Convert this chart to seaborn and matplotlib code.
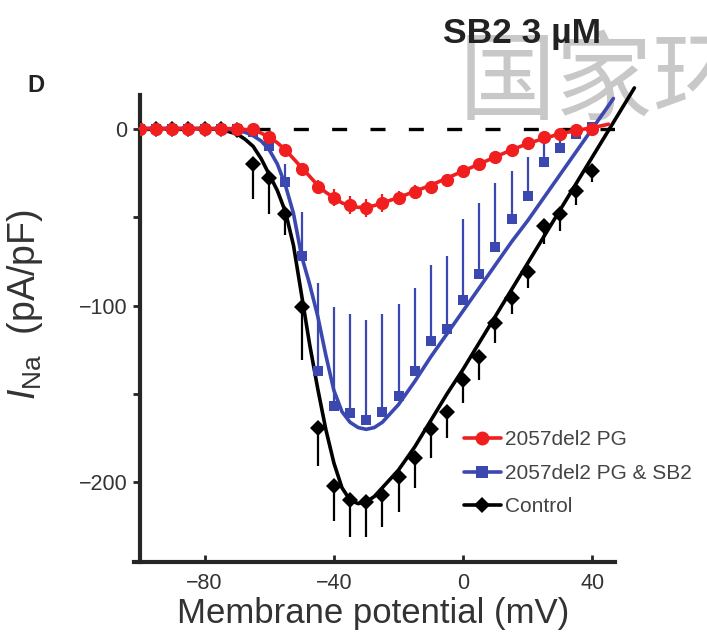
import numpy as np
import pandas as pd
import matplotlib
matplotlib.use("Agg")
import matplotlib.pyplot as plt
from matplotlib.lines import Line2D
import seaborn as sns

sns.set_style("ticks")
plt.rcParams['font.family'] = ['Liberation Sans', 'DejaVu Sans']
plt.rcParams['mathtext.fontset'] = 'custom'
plt.rcParams['mathtext.rm'] = 'Liberation Sans'
plt.rcParams['mathtext.it'] = 'Liberation Sans:italic'

# measured points (mV, pA/pF)
voltage = [-100, -95, -90, -85, -80, -75, -70, -65, -60, -55, -50, -45, -40, -35, -30,
           -25, -20, -15, -10, -5, 0, 5, 10, 15, 20, 25, 30, 35, 40]
control = [0, 0, 0, 0, 0, 0, -1, -20, -28, -48, -101, -169, -202, -210, -211,
           -207, -197, -186, -170, -160, -142, -129, -110, -96, -81, -55, -48, -35, -24]
control_sem = [0, 0, 0, 0, 0, 0, 1, 20, 20, 12, 30, 22, 20, 21, 20,
               18, 20, 17, 16, 15, 13, 13, 11, 9, 9, 10, 10, 8, 6]
pg_sb2 = [0, 0, 0, 0, 0, 0, 0, -2, -10, -30, -72, -137, -157, -161, -165,
          -160, -151, -137, -120, -113, -97, -82, -67, -51, -38, -19, -11, -3, 1]
pg_sb2_sem = [0, 0, 0, 0, 0, 0, 0, 1, 4, 10, 25, 50, 56, 56, 57,
              55, 52, 47, 43, 41, 46, 40, 36, 27, 22, 14, 9, 5, 2]
pg = [0, 0, 0, 0, 0, 0, 0, 0, -5, -12, -23, -33, -39, -43, -45,
      -42, -39, -36, -33, -29, -24, -20, -16, -12, -8, -5, -3, -1, 0]
pg_sem = [0, 0, 0, 0, 0, 0, 0, 1, 2, 3, 3, 4, 5, 5, 5,
          5, 4, 4, 3, 3, 3, 3, 3, 2, 2, 2, 2, 1, 1]

# fitted curves
fit_v = [-100, -90, -80, -75, -70, -67.5, -65, -62.5, -60, -57.5, -55, -52.5, -50, -47.5,
         -45, -42.5, -40, -37.5, -35, -32.5, -30, -27.5, -25, -20, -15, -10, -5, 0,
         5, 10, 15, 20, 25, 30, 35, 40, 45]
control_fit = [0, 0, 0, -0.5, -3, -6, -10, -17, -26, -35, -47, -66, -94, -122,
               -147, -170, -189, -203, -210, -212, -211, -208, -203, -193, -180, -165, -150, -136,
               -121, -106, -91, -76, -61, -46, -31, -16, -1]
pg_sb2_fit = [0, 0, 0, 0, -1, -2, -4, -7, -12, -20, -32, -48, -72, -88,
              -106, -128, -148, -160, -166, -169, -170, -169, -166, -156, -143, -129, -116, -103,
              -90, -77, -64, -52, -39, -26, -13, 0, 13]
pg_fit = [0, 0, 0, 0, 0, -0.5, -1, -2.5, -5, -8, -12, -17, -22, -27,
          -32, -36, -39, -42, -43.5, -44.5, -44.5, -43.5, -42, -39, -35.5, -32, -28, -24,
          -20, -16, -12, -8.5, -5.5, -3, -1, 0.5, 2.5]
# line ends running past the axes
control_tail_v = [45, 50, 53]
control_tail = [-1, 14, 23]
pg_sb2_tail_v = [45, 46.5]
pg_sb2_tail = [13, 17]

labels = ["2057del2 PG", "2057del2 PG & SB2", "Control"]
RED = "#f01e1e"
BLUE = "#3a48b0"
BLACK = "#000000"

fig = plt.figure(figsize=(7.07, 6.36), dpi=100)
ax = fig.add_axes([140 / 707, 74 / 636, 475 / 707, 467 / 636])
ax.patch.set_alpha(0)

ax.axhline(0, color="black", lw=2.4, ls=(0, (4.5, 7)), zorder=1)

series = [
    (control, control_sem, control_fit, control_tail_v, control_tail, BLACK, "D", 8.5, "down"),
    (pg_sb2, pg_sb2_sem, pg_sb2_fit, pg_sb2_tail_v, pg_sb2_tail, BLUE, "s", 7.5, "up"),
    (pg, pg_sem, pg_fit, fit_v[-1:], pg_fit[-1:], RED, "o", 9.5, "both"),
]
for z, (vals, sem, fit, tv, tf, col, mk, ms, side) in enumerate(series):
    sem = np.array(sem)
    if side == "down":
        yerr = [sem, np.zeros_like(sem)]
    elif side == "up":
        yerr = [np.zeros_like(sem), sem]
    else:
        yerr = [sem, sem]
    ax.errorbar(voltage, vals, yerr=yerr, fmt=mk, color=col, ms=ms, mew=0,
                elinewidth=1.6, capsize=1.5, capthick=1.6, zorder=3 + 2 * z)
    df = pd.DataFrame({"v": fit_v + tv, "i": fit + tf})
    ln = sns.lineplot(data=df, x="v", y="i", ax=ax, color=col, lw=2.6,
                      estimator=None, sort=False, zorder=4 + 2 * z)
    ln.lines[-1].set_clip_on(False)

ax.set_xlim(-100, 47)
ax.set_ylim(-245, 19)
ax.set_xticks([-80, -40, 0, 40])
ax.set_yticks([0, -100, -200])
ax.set_yticks([-50, -150], minor=True)
ax.tick_params(axis="x", direction="in", length=5, width=2, labelsize=15.5,
               labelcolor="#333333", pad=8)
ax.tick_params(axis="y", which="both", direction="out", length=5, width=2,
               labelsize=15.5, labelcolor="#333333", pad=4)
sns.despine(ax=ax)
for s in ["left", "bottom"]:
    ax.spines[s].set_linewidth(3)
ax.spines["bottom"].set_bounds(-102, 47)

ax.set_xlabel("Membrane potential (mV)", fontsize=25, color="#333333")
ax.xaxis.set_label_coords(0.49, -0.075)
ax.set_ylabel(r"$I_{\mathrm{Na}}$  (pA/pF)", fontsize=27, color="#333333")
ax.yaxis.set_label_coords(-0.2, 0.55)

handles = [
    Line2D([], [], color=RED, marker="o", ms=10, lw=2.6, mew=0),
    Line2D([], [], color=BLUE, marker="s", ms=9, lw=2.6, mew=0),
    Line2D([], [], color=BLACK, marker="D", ms=8, lw=2.6, mew=0),
]
leg = ax.legend(handles, labels, loc="upper left", bbox_to_anchor=(0.665, 0.3),
                frameon=False, fontsize=15, handlelength=1.75, handletextpad=0.2,
                labelspacing=0.7, borderaxespad=0)
for t in leg.get_texts():
    t.set_color("#444444")

fig.text(27 / 707, 1 - 85 / 636, "D", fontsize=17, fontweight="bold",
         color="#222222", ha="left", va="center", zorder=5)
fig.text(522 / 707, 1 - 33 / 636, "SB2 3 µM", fontsize=25.5, fontweight="bold",
         color="#222222", ha="center", va="center", zorder=5)
# watermark sits behind the plot
fig.text(459 / 707, 1 - 112 / 636, "国家环", fontsize=70, color="#c8c8c8",
         family=["Noto Sans CJK SC", "DejaVu Sans"], ha="left", va="baseline",
         zorder=-1)

fig.savefig("out.png", dpi=100, facecolor="white")
